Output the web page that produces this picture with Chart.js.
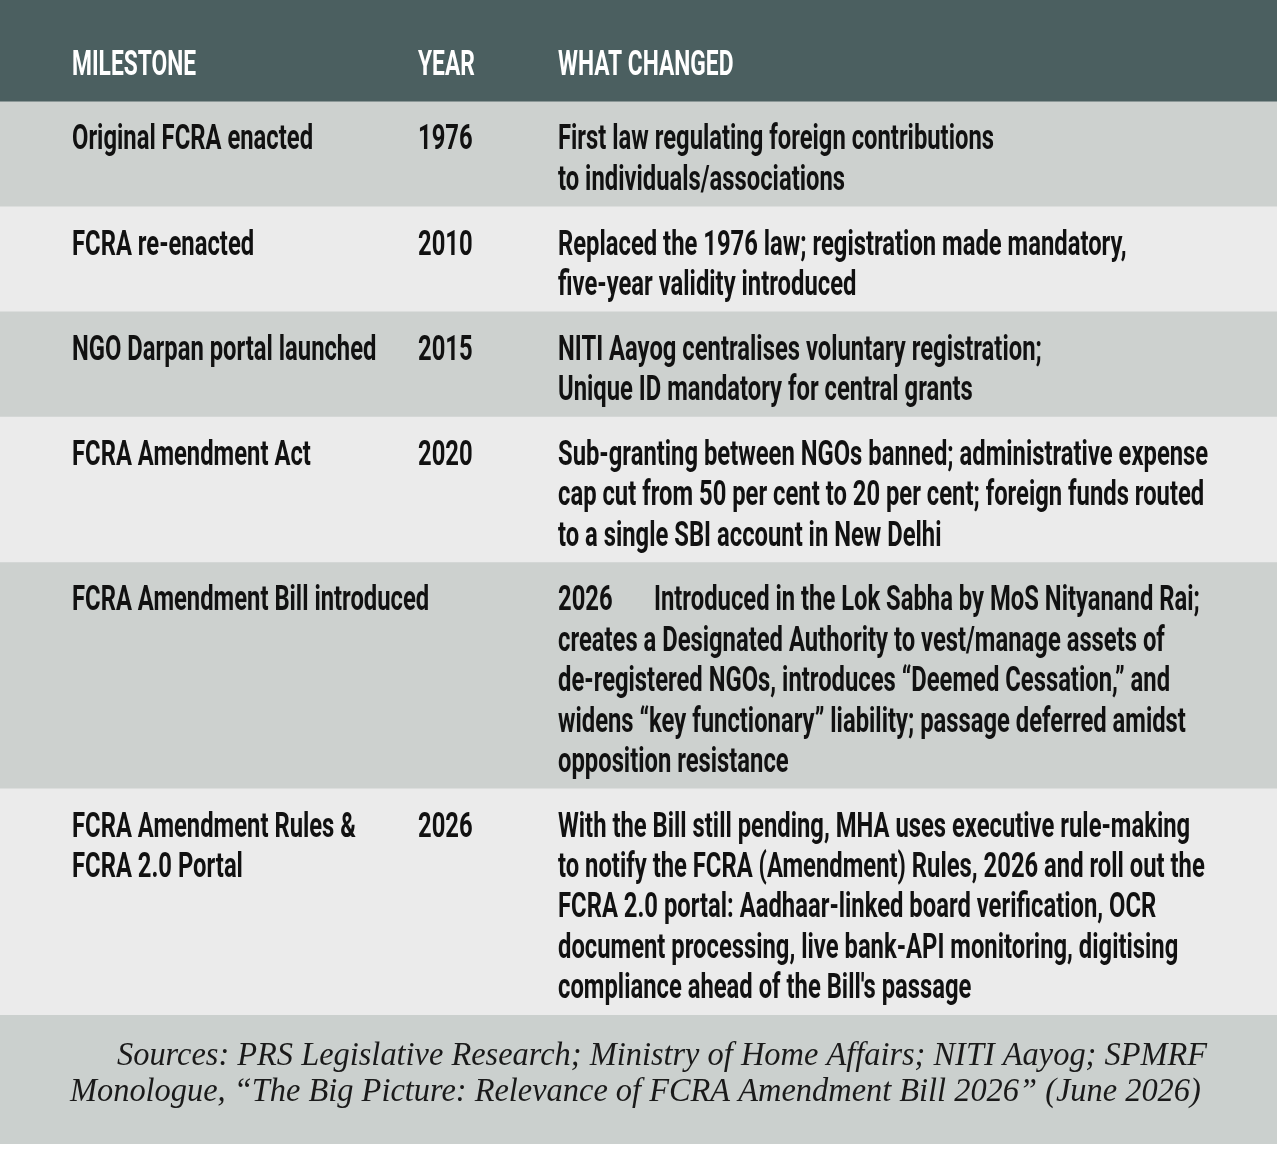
<!DOCTYPE html>
<html>
<head>
<meta charset="utf-8">
<script src="https://cdn.jsdelivr.net/npm/chart.js@4.4.1/dist/chart.umd.min.js"></script>
<style>
  html, body { margin: 0; padding: 0; background: #ffffff; }
  #tableCanvas { display: block; }
</style>
</head>
<body>
<canvas id="tableCanvas" width="1280" height="1156"></canvas>
<script>
// Table content
const headers = ['MILESTONE', 'YEAR', 'WHAT CHANGED'];

const milestones = [
    ['Original FCRA enacted'],
    ['FCRA re-enacted'],
    ['NGO Darpan portal launched'],
    ['FCRA Amendment Act'],
    ['FCRA Amendment Bill introduced'],
    ['FCRA Amendment Rules &', 'FCRA 2.0 Portal']
];

const years = ['1976', '2010', '2015', '2020', '2026', '2026'];

const changes = [
    ['First law regulating foreign contributions',
     'to individuals/associations'],
    ['Replaced the 1976 law; registration made mandatory,',
     'five-year validity introduced'],
    ['NITI Aayog centralises voluntary registration;',
     'Unique ID mandatory for central grants'],
    ['Sub-granting between NGOs banned; administrative expense',
     'cap cut from 50 per cent to 20 per cent; foreign funds routed',
     'to a single SBI account in New Delhi'],
    ['Introduced in the Lok Sabha by MoS Nityanand Rai;',
     'creates a Designated Authority to vest/manage assets of',
     'de-registered NGOs, introduces \u201cDeemed Cessation,\u201d and',
     'widens \u201ckey functionary\u201d liability; passage deferred amidst',
     'opposition resistance'],
    ['With the Bill still pending, MHA uses executive rule-making',
     'to notify the FCRA (Amendment) Rules, 2026 and roll out the',
     'FCRA 2.0 portal: Aadhaar-linked board verification, OCR',
     'document processing, live bank-API monitoring, digitising',
     'compliance ahead of the Bill\'s passage']
];

// in the source the 2026 bill row has its year set inline with the text
const inlineYearRow = 4;

const sourceLines = [
    'Sources: PRS Legislative Research; Ministry of Home Affairs; NITI Aayog; SPMRF',
    'Monologue, \u201cThe Big Picture: Relevance of FCRA Amendment Bill 2026\u201d (June 2026)'
];

// Layout in "line" units on the y scale
const HEADER_UNITS = 2.5;
const ROW_PAD = 0.6;
const FOOTER_UNITS = 3.2;

const colors = {
    header: '#4b5f60',
    dark: '#cdd1cf',
    light: '#ebebeb',
    footer: '#cbd0ce'
};

// build the row bands (start/end on the y scale) from the line counts
const bands = [];
let cursor = 0;
bands.push({ range: [cursor, cursor + HEADER_UNITS], color: colors.header, kind: 'header' });
cursor += HEADER_UNITS;
milestones.forEach((m, i) => {
    const lines = Math.max(m.length, changes[i].length);
    const h = lines + ROW_PAD;
    bands.push({ range: [cursor, cursor + h], color: i % 2 === 0 ? colors.dark : colors.light, kind: 'row', row: i });
    cursor += h;
});
bands.push({ range: [cursor, cursor + FOOTER_UNITS], color: colors.footer, kind: 'footer' });
cursor += FOOTER_UNITS;
const totalUnits = cursor;

const condensed = (ctx, text, x, y, sx) => {
    ctx.save();
    ctx.translate(x, y);
    ctx.scale(sx, 1);
    ctx.fillText(text, 0, 0);
    ctx.restore();
};

const COL_X = [72, 418, 558];
const SANS = 'bold 35px Roboto';
const SANS_SX = 0.68;
const HEAD_SX = 0.65;

const tableText = {
    id: 'tableText',
    afterDatasetsDraw(chart) {
        const ctx = chart.ctx;
        const yScale = chart.scales.y;
        const unit = yScale.getPixelForValue(1) - yScale.getPixelForValue(0);
        ctx.save();
        ctx.textBaseline = 'alphabetic';
        ctx.textAlign = 'left';
        bands.forEach(b => {
            const top = yScale.getPixelForValue(b.range[0]);
            if (b.kind === 'header') {
                ctx.fillStyle = '#ffffff';
                ctx.font = SANS;
                const base = top + 1.55 * unit + 12;
                headers.forEach((h, c) => condensed(ctx, h, COL_X[c], base, HEAD_SX));
            } else if (b.kind === 'row') {
                const i = b.row;
                ctx.fillStyle = '#111111';
                ctx.font = SANS;
                const lineBase = k => top + (0.35 + 0.5 + k) * unit + 14;
                milestones[i].forEach((t, k) => condensed(ctx, t, COL_X[0], lineBase(k), SANS_SX));
                let firstIndent = 0;
                if (i === inlineYearRow) {
                    condensed(ctx, years[i], COL_X[2], lineBase(0), SANS_SX);
                    firstIndent = 96;
                } else {
                    condensed(ctx, years[i], COL_X[1], lineBase(0), SANS_SX);
                }
                changes[i].forEach((t, k) => condensed(ctx, t, COL_X[2] + (k === 0 ? firstIndent : 0), lineBase(k), SANS_SX));
            } else {
                ctx.fillStyle = '#1a1a1a';
                ctx.font = 'italic 34px "Liberation Serif"';
                sourceLines.forEach((t, k) => {
                    const x = k === 0 ? 117 : 70;
                    condensed(ctx, t, x, top + 1.0 * unit + 10 + k * 36, 0.953);
                });
            }
        });
        ctx.restore();
    }
};

const chart = new Chart(document.getElementById('tableCanvas').getContext('2d'), {
    type: 'bar',
    data: {
        labels: ['table'],
        datasets: bands.map(b => ({
            data: [b.range],
            backgroundColor: b.color,
            borderWidth: 0,
            grouped: false,
            barPercentage: 1,
            categoryPercentage: 1
        }))
    },
    options: {
        responsive: false,
        animation: false,
        layout: { padding: { left: 0, top: 0, right: 3, bottom: 12 } },
        plugins: { legend: { display: false }, tooltip: { enabled: false } },
        scales: {
            x: { display: false },
            y: { display: false, reverse: true, min: 0, max: totalUnits }
        }
    },
    plugins: [tableText]
});
</script>
</body>
</html>
